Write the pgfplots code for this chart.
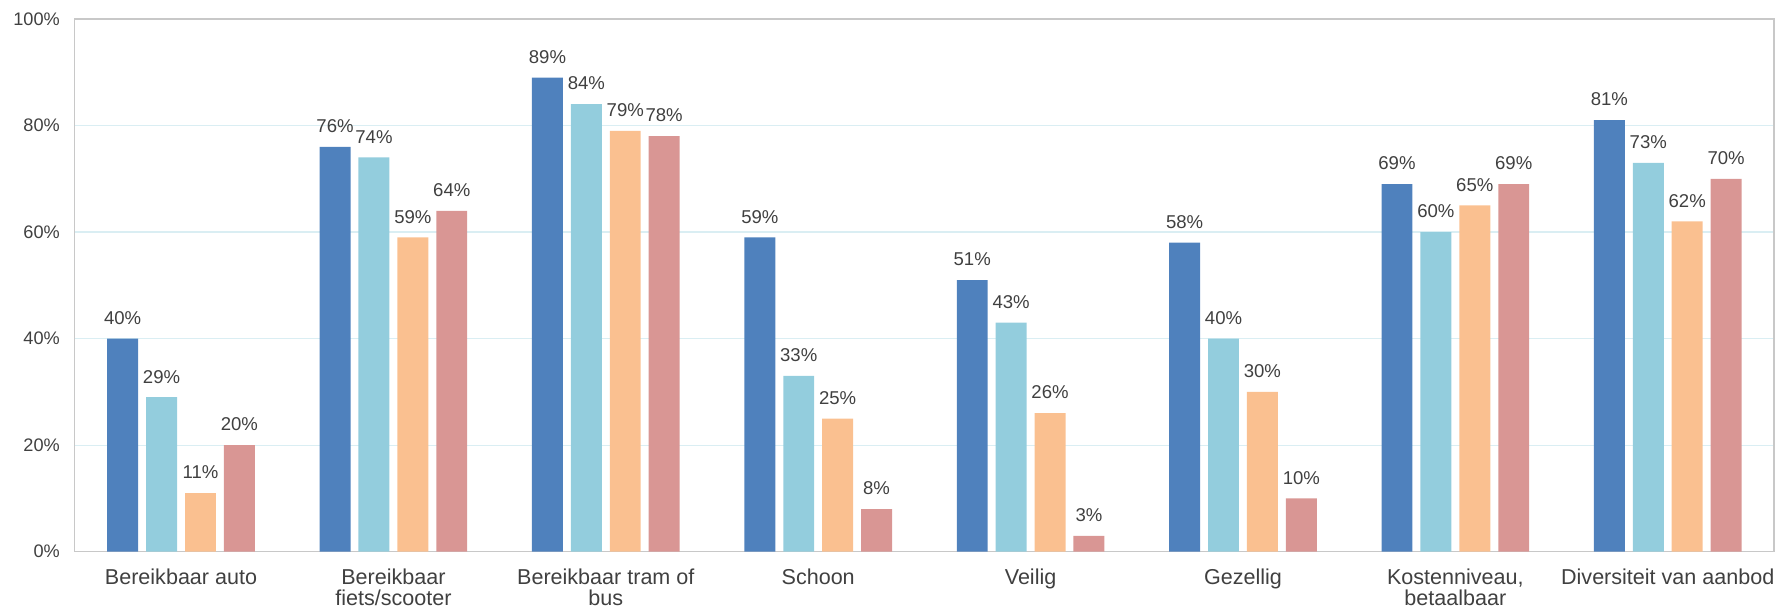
\documentclass[border=0pt]{standalone}
\usepackage{pgfplots}
\pgfplotsset{compat=1.18}
\usepackage{fontspec}
\setmainfont{Liberation Sans}
\definecolor{cA}{HTML}{4F81BD}
\definecolor{cB}{HTML}{93CDDD}
\definecolor{cC}{HTML}{FAC090}
\definecolor{cD}{HTML}{D99694}
\definecolor{txt}{HTML}{404040}
\definecolor{gridc}{HTML}{DAEEF3}
\definecolor{framec}{HTML}{C8C8C8}
\begin{document}
\begin{tikzpicture}
\path (-37.5pt,-29.5pt) rectangle (853pt,276.5pt);
\begin{axis}[
  at={(0,0)}, anchor=south west,
  scale only axis, width=851.5pt, height=267pt,
  ybar=4pt, bar width=15.5pt,
  xmin=-0.5, xmax=7.5, ymin=0, ymax=100,
  xtick=data,
  xticklabels={{Bereikbaar auto},{Bereikbaar\\fiets/scooter},{Bereikbaar tram of\\bus},{Schoon},{Veilig},{Gezellig},{Kostenniveau,\\betaalbaar},{Diversiteit van aanbod}},
  xticklabel style={align=center, text=txt, font=\fontsize{10.8}{10.8}\selectfont, yshift=-5pt},
  ytick={0,20,40,60,80,100},
  yticklabel={\pgfmathprintnumber{\tick}\%},
  yticklabel style={text=txt, font=\fontsize{9.1}{11}\selectfont, xshift=-4pt},
  /pgf/number format/assume math mode=true,
  major tick length=0pt,
  xmajorgrids=false,
  ymajorgrids=true, grid style={draw=gridc, line width=0.6pt},
  axis line style={draw=framec, line width=0.6pt},
  nodes near coords={\pgfmathprintnumber{\pgfplotspointmeta}\%},
  every node near coord/.append style={text=txt, font=\fontsize{9.3}{11}\selectfont, yshift=3.5pt},
]
\addplot[fill=cA, draw=none] coordinates {(0,40) (1,76) (2,89) (3,59) (4,51) (5,58) (6,69) (7,81)};
\addplot[fill=cB, draw=none] coordinates {(0,29) (1,74) (2,84) (3,33) (4,43) (5,40) (6,60) (7,73)};
\addplot[fill=cC, draw=none] coordinates {(0,11) (1,59) (2,79) (3,25) (4,26) (5,30) (6,65) (7,62)};
\addplot[fill=cD, draw=none] coordinates {(0,20) (1,64) (2,78) (3,8) (4,3) (5,10) (6,69) (7,70)};
\end{axis}
\end{tikzpicture}
\end{document}
